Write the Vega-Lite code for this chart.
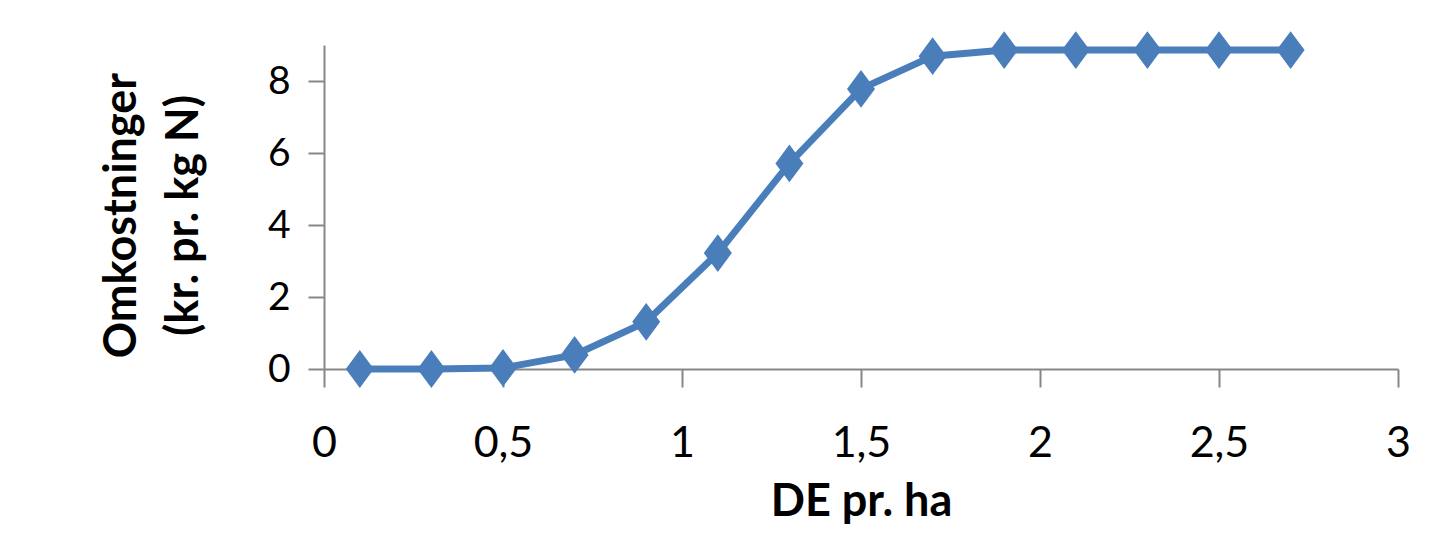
{
  "$schema": "https://vega.github.io/schema/vega-lite/v6.json",
  "autosize": {"type": "none"},
  "padding": {"left": 324, "top": 45, "right": 41, "bottom": 164},
  "width": 1074,
  "height": 324,
  "background": "white",
  "config": {
    "view": {"stroke": null},
    "font": "Lato"
  },
  "data": {
    "values": [
      {"de": 0.1, "cost": 0.0},
      {"de": 0.3, "cost": 0.0},
      {"de": 0.5, "cost": 0.03},
      {"de": 0.7, "cost": 0.39},
      {"de": 0.9, "cost": 1.31},
      {"de": 1.1, "cost": 3.22},
      {"de": 1.3, "cost": 5.71},
      {"de": 1.5, "cost": 7.78},
      {"de": 1.7, "cost": 8.69},
      {"de": 1.9, "cost": 8.86},
      {"de": 2.1, "cost": 8.86},
      {"de": 2.3, "cost": 8.86},
      {"de": 2.5, "cost": 8.86},
      {"de": 2.7, "cost": 8.86}
    ]
  },
  "encoding": {
    "x": {
      "field": "de",
      "type": "quantitative",
      "scale": {"domain": [0, 3], "nice": false, "zero": false},
      "axis": {
        "title": "DE pr. ha",
        "values": [0, 0.5, 1, 1.5, 2, 2.5, 3],
        "labelExpr": "replace(format(datum.value, '~g'), '.', ',')",
        "grid": false,
        "domainColor": "#878787",
        "domainWidth": 2,
        "tickColor": "#878787",
        "tickWidth": 2,
        "tickSize": 18,
        "labelFont": "Lato",
        "labelFontSize": 43,
        "labelColor": "#000000",
        "labelBaseline": "alphabetic",
        "labelPadding": 69,
        "labelFlush": false,
        "labelOverlap": false,
        "titleFont": "Lato",
        "titleFontSize": 45,
        "titleFontWeight": "bold",
        "titleColor": "#000000",
        "titleBaseline": "alphabetic",
        "titleY": 146
      }
    },
    "y": {
      "field": "cost",
      "type": "quantitative",
      "scale": {"domain": [0, 9], "nice": false},
      "axis": {
        "title": ["Omkostninger", "(kr. pr. kg N)"],
        "values": [0, 2, 4, 6, 8],
        "grid": false,
        "domainColor": "#878787",
        "domainWidth": 2,
        "tickColor": "#878787",
        "tickWidth": 2,
        "tickSize": 16,
        "labelFont": "Lato",
        "labelFontSize": 39,
        "labelColor": "#000000",
        "labelPadding": 18,
        "labelFlush": false,
        "labelOverlap": false,
        "titleFont": "Lato",
        "titleFontSize": 45,
        "titleFontWeight": "bold",
        "titleColor": "#000000",
        "titleAngle": -90,
        "titleAlign": "center",
        "titleBaseline": "alphabetic",
        "titleLineHeight": 62,
        "titleX": -189,
        "titleY": 170
      }
    }
  },
  "layer": [
    {
      "mark": {"type": "line", "color": "#4a7ebb", "strokeWidth": 7, "interpolate": "linear"}
    },
    {
      "mark": {
        "type": "point",
        "shape": "M0,-1.35L1,0L0,1.35L-1,0Z",
        "size": 784,
        "filled": true,
        "opacity": 1,
        "color": "#4a7ebb"
      }
    }
  ]
}
